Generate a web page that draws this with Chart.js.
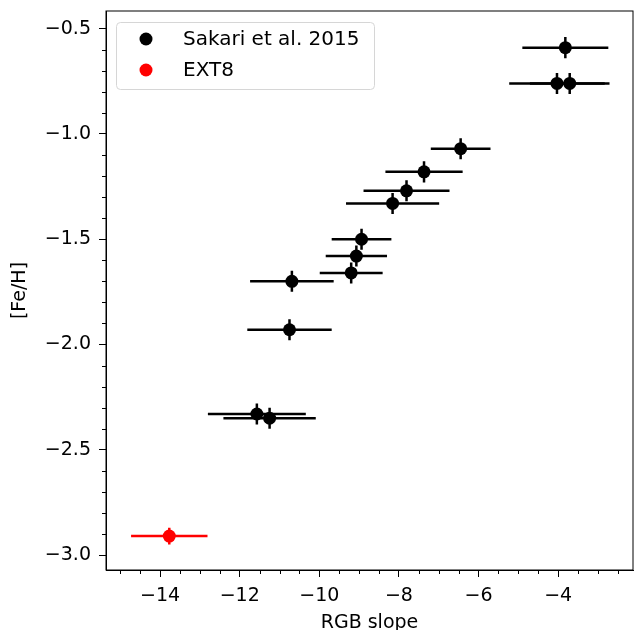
<!DOCTYPE html>
<html>
<head>
<meta charset="utf-8">
<script src="https://cdn.jsdelivr.net/npm/chart.js@4/dist/chart.umd.min.js"></script>
<style>
  html, body { margin: 0; padding: 0; background: #fff; }
  #wrap { width: 634px; height: 630px; }
</style>
</head>
<body>
<div id="wrap"><canvas id="chart" width="634" height="630"></canvas></div>
<script>
// Sakari et al. 2015 clusters
const sakariSlope = [-3.82, -4.03, -3.71, -6.45, -7.37, -7.81, -8.16, -8.94, -9.07, -9.20, -10.69, -10.75, -11.57, -11.25];
const sakariFeH = [-0.59, -0.76, -0.76, -1.07, -1.18, -1.27, -1.33, -1.50, -1.58, -1.66, -1.70, -1.93, -2.33, -2.35];
const sakariSlopeErr = [1.08, 1.20, 1.00, 0.75, 0.97, 1.08, 1.17, 0.75, 0.77, 0.79, 1.05, 1.06, 1.23, 1.16];
const sakariFeHErr = [0.05, 0.05, 0.05, 0.05, 0.05, 0.05, 0.05, 0.05, 0.05, 0.05, 0.05, 0.05, 0.05, 0.05];

// EXT8
const ext8Slope = [-13.77];
const ext8FeH = [-2.91];
const ext8SlopeErr = [0.96];
const ext8FeHErr = [0.04];

const xTicks = [-14, -12, -10, -8, -6, -4];
const yTicks = [-3.0, -2.5, -2.0, -1.5, -1.0, -0.5];

const FONT = 'DejaVu Sans';

function toPoints(xs, ys) {
    return xs.map((x, i) => ({ x: x, y: ys[i] }));
}

function minus(s) {
    return String(s).replace('-', '\u2212');
}

// 不让刻度标签撑开绘图区
function fixSize(prop, size) {
    return s => {
        s[prop] = size;
        s.paddingTop = 0;
        s.paddingBottom = 0;
        s.paddingLeft = 0;
        s.paddingRight = 0;
    };
}

// 误差棒，画在点的下面
const errorBars = {
    id: 'errorBars',
    beforeDatasetsDraw(chart) {
        const ctx = chart.ctx;
        const xs = chart.scales.x, ys = chart.scales.y;
        chart.data.datasets.forEach(ds => {
            ctx.save();
            ctx.strokeStyle = ds.backgroundColor;
            ctx.lineWidth = 2.5;
            ds.data.forEach((p, i) => {
                const px = xs.getPixelForValue(p.x);
                const py = ys.getPixelForValue(p.y);
                ctx.beginPath();
                ctx.moveTo(xs.getPixelForValue(p.x - ds.errX[i]), py);
                ctx.lineTo(xs.getPixelForValue(p.x + ds.errX[i]), py);
                ctx.moveTo(px, ys.getPixelForValue(p.y - ds.errY[i]));
                ctx.lineTo(px, ys.getPixelForValue(p.y + ds.errY[i]));
                ctx.stroke();
            });
            ctx.restore();
        });
    }
};

// 边框、次刻度和图例
const frame = {
    id: 'frame',
    afterDraw(chart) {
        const ctx = chart.ctx;
        const a = chart.chartArea;
        const xs = chart.scales.x, ys = chart.scales.y;
        ctx.save();
        ctx.strokeStyle = '#000';
        ctx.lineWidth = 1;
        ctx.strokeRect(a.left, a.top, a.right - a.left, a.bottom - a.top);

        // minor ticks
        ctx.beginPath();
        for (let v = -15; v <= -2.5; v += 0.5) {
            if (Number.isInteger(v / 2)) continue;
            const px = Math.round(xs.getPixelForValue(v)) + 0.5;
            ctx.moveTo(px, a.bottom);
            ctx.lineTo(px, a.bottom + 4);
        }
        for (let k = -30; k <= -5; k++) {
            if (k % 5 === 0) continue;
            const py = Math.round(ys.getPixelForValue(k / 10)) + 0.5;
            ctx.moveTo(a.left, py);
            ctx.lineTo(a.left - 4, py);
        }
        ctx.stroke();

        // legend box
        const bx = 116.5, by = 22.5, bw = 258, bh = 67, r = 4;
        ctx.beginPath();
        ctx.moveTo(bx + r, by);
        ctx.arcTo(bx + bw, by, bx + bw, by + bh, r);
        ctx.arcTo(bx + bw, by + bh, bx, by + bh, r);
        ctx.arcTo(bx, by + bh, bx, by, r);
        ctx.arcTo(bx, by, bx + bw, by, r);
        ctx.closePath();
        ctx.fillStyle = 'rgba(255,255,255,0.8)';
        ctx.fill();
        ctx.strokeStyle = '#d6d6d6';
        ctx.stroke();

        ctx.font = '20px "' + FONT + '"';
        ctx.textBaseline = 'middle';
        ctx.textAlign = 'left';
        chart.data.datasets.forEach((ds, i) => {
            const ly = 39 + i * 31;
            ctx.fillStyle = ds.backgroundColor;
            ctx.beginPath();
            ctx.arc(146, ly, 6.5, 0, Math.PI * 2);
            ctx.fill();
            ctx.fillStyle = '#000';
            ctx.fillText(ds.label, 183, ly + 1);
        });
        ctx.restore();
    }
};

new Chart(document.getElementById('chart'), {
    type: 'scatter',
    data: {
        datasets: [
            {
                label: 'Sakari et al. 2015',
                data: toPoints(sakariSlope, sakariFeH),
                errX: sakariSlopeErr,
                errY: sakariFeHErr,
                backgroundColor: '#000000',
                borderWidth: 0,
                pointRadius: 6.5
            },
            {
                label: 'EXT8',
                data: toPoints(ext8Slope, ext8FeH),
                errX: ext8SlopeErr,
                errY: ext8FeHErr,
                backgroundColor: '#ff0000',
                borderWidth: 0,
                pointRadius: 6.5
            }
        ]
    },
    options: {
        responsive: false,
        animation: false,
        layout: { autoPadding: false, padding: { top: 11, right: 1, left: 0, bottom: 0 } },
        plugins: {
            legend: { display: false },
            tooltip: { enabled: false }
        },
        scales: {
            x: {
                type: 'linear',
                min: -15.36,
                max: -2.12,
                afterBuildTicks: s => { s.ticks = xTicks.map(v => ({ value: v })); },
                afterFit: fixSize('height', 60),
                grid: { drawOnChartArea: false, drawTicks: true, tickLength: 7, color: '#000' },
                border: { display: true, color: '#000', width: 1 },
                ticks: {
                    color: '#000',
                    padding: 8,
                    maxRotation: 0,
                    font: { family: FONT, size: 19 },
                    callback: v => minus(v)
                },
                title: {
                    display: true,
                    text: 'RGB slope',
                    color: '#000',
                    font: { family: FONT, size: 19, lineHeight: 0.7 },
                    padding: { top: 0, bottom: 0 }
                }
            },
            y: {
                type: 'linear',
                min: -3.071,
                max: -0.416,
                afterBuildTicks: s => { s.ticks = yTicks.map(v => ({ value: v })); },
                afterFit: fixSize('width', 106),
                grid: { drawOnChartArea: false, drawTicks: true, tickLength: 7, color: '#000' },
                border: { display: true, color: '#000', width: 1 },
                ticks: {
                    color: '#000',
                    padding: 8,
                    font: { family: FONT, size: 19 },
                    callback: v => minus(v.toFixed(1))
                },
                title: {
                    display: true,
                    text: '[Fe/H]',
                    color: '#000',
                    font: { family: FONT, size: 19, lineHeight: 0.8 },
                    padding: { top: 12, bottom: 0 }
                }
            }
        }
    },
    plugins: [errorBars, frame]
});
</script>
</body>
</html>
